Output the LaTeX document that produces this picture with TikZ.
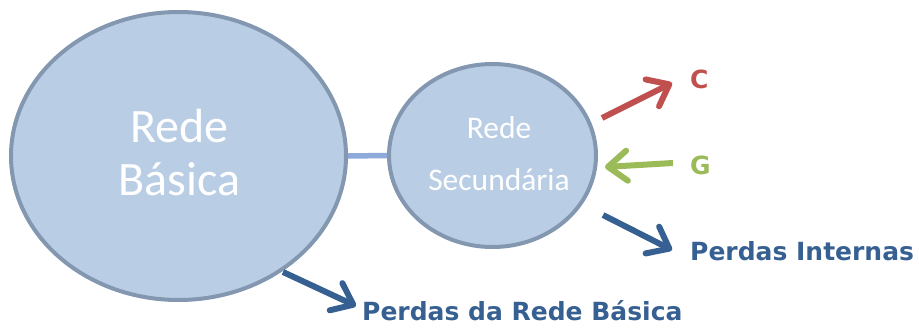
\documentclass[tikz,border=0pt]{standalone}
\usepackage{fontspec}
\setmainfont{Carlito}
\newfontfamily\lblfont{DejaVu Sans}
\usetikzlibrary{shapes.geometric,arrows.meta}
\pgfdeclarelayer{background}
\pgfsetlayers{background,main}
\definecolor{efill}{HTML}{B9CDE5}
\definecolor{eline}{HTML}{8497B0}
\definecolor{cline}{HTML}{8EAADB}
\definecolor{cred}{HTML}{C0504D}
\definecolor{cgreen}{HTML}{9BBB59}
\definecolor{cblue}{HTML}{376092}
\tikzset{
  netell/.style={ellipse, draw=eline, fill=efill, line width=4pt, inner sep=0pt},
  bigtxt/.style={anchor=base, inner sep=0pt, text=white, font=\fontsize{48}{56}\selectfont},
  smalltxt/.style={anchor=base, inner sep=0pt, text=white, font=\fontsize{31.5}{38}\selectfont},
  lbl/.style={anchor=base west, inner sep=0pt, font=\lblfont\bfseries\fontsize{25}{30}\selectfont},
  flow/.style={line width=6pt, -{Straight Barb[length=19pt,width=30pt,round]}},
}
\begin{document}
\begin{tikzpicture}[x=1pt,y=-1pt]
\useasboundingbox (0,0) rectangle (919,327);
\node[netell, minimum width=335pt, minimum height=288pt] (rb) at (178.5,156) {};
\node[netell, minimum width=207pt, minimum height=183pt] (rs) at (492.5,155.5) {};
\begin{pgfonlayer}{background}
\draw[cline, line width=5.5pt] (rb.east) -- (rs.west);
\end{pgfonlayer}
\node[bigtxt] (rb1) at (179.5,142) {Rede};
\node[bigtxt] (rb2) at (179.5,195) {Básica};
\node[smalltxt] (rs1) at (499,138) {Rede};
\node[smalltxt] (rs2) at (499,190) {Secundária};
\node[lbl, text=cred] (lc) at (690,88) {C};
\node[lbl, text=cgreen] (lg) at (690,174) {G};
\node[lbl, text=cblue] (lpi) at (690,260) {Perdas Internas};
\node[lbl, text=cblue] (lprb) at (362,320) {Perdas da Rede Básica};
\coordinate (c0) at (602,118); \coordinate (c1) at (672,83);
\coordinate (g0) at (673,163); \coordinate (g1) at (605,167);
\coordinate (p0) at (603,215); \coordinate (p1) at (672,250);
\coordinate (q0) at (283,272); \coordinate (q1) at (356,306);
\draw[flow, cred] (c0) -- (c1);
\draw[flow, cgreen] (g0) -- (g1);
\draw[flow, cblue] (p0) -- (p1);
\draw[flow, cblue] (q0) -- (q1);
\end{tikzpicture}
\end{document}
